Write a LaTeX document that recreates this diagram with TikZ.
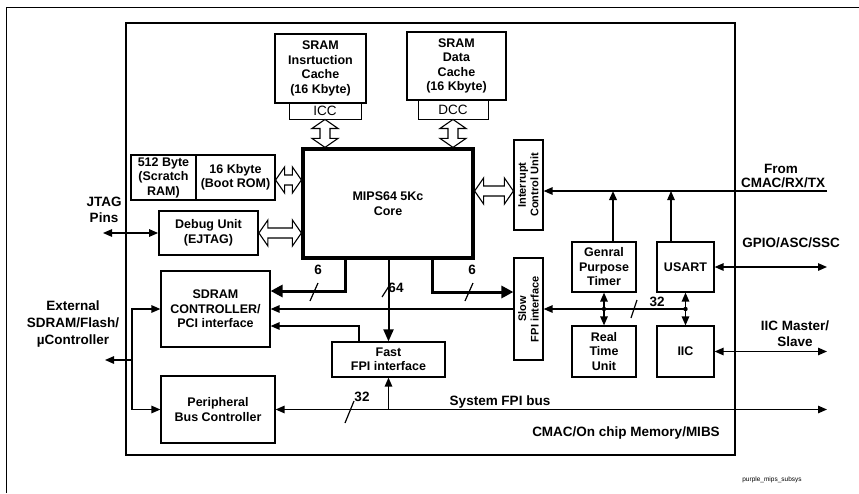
\documentclass[tikz,border=0pt]{standalone}
\usepackage{fontspec}
\setmainfont{Liberation Sans}
\usetikzlibrary{arrows.meta,calc}
\newcommand{\VHollow}[3]{% x, top node anchor, bottom node anchor
  \path[hollow] let \p1=(#2), \p2=(#3) in
    ({#1pt},\y1) -- ({#1pt+13pt},\y1-9pt) -- ({#1pt+5pt},\y1-9pt) -- ({#1pt+5pt},\y2+9pt) -- ({#1pt+13pt},\y2+9pt)
    -- ({#1pt},\y2) -- ({#1pt-13pt},\y2+9pt) -- ({#1pt-5pt},\y2+9pt) -- ({#1pt-5pt},\y1-9pt) -- ({#1pt-13pt},\y1-9pt) -- cycle;}
\newcommand{\HHollow}[3]{% y (pixel, down), left anchor, right anchor
  \path[hollow] let \p1=(#2), \p2=(#3) in
    (\x1,{-#1pt}) -- (\x1+9pt,{-#1pt+13pt}) -- (\x1+9pt,{-#1pt+5pt}) -- (\x2-9pt,{-#1pt+5pt}) -- (\x2-9pt,{-#1pt+13pt})
    -- (\x2,{-#1pt}) -- (\x2-9pt,{-#1pt-13pt}) -- (\x2-9pt,{-#1pt-5pt}) -- (\x1+9pt,{-#1pt-5pt}) -- (\x1+9pt,{-#1pt-13pt}) -- cycle;}
\begin{document}
\begin{tikzpicture}[x=1pt,y=-1pt,
  txt/.style={font=\bfseries\fontsize{12.5}{14.5}\selectfont, align=center, inner sep=0pt},
  rtxt/.style={font=\bfseries\fontsize{11}{12.5}\selectfont, align=center, inner sep=0pt, rotate=90},
  blk/.style={draw, line width=1.2pt, txt},
  thk/.style={blk, line width=2.2pt},
  tag/.style={draw, line width=0.9pt, inner sep=0pt, font=\fontsize{13.5}{14}\selectfont},
  hollow/.style={draw, line width=1.1pt, fill=white, line join=miter},
  tip/.tip={Triangle[length=9pt,width=7.5pt]},
  bigtip/.tip={Triangle[length=12pt,width=12pt]},
  conn/.style={line width=1.3pt, -tip},
  conn2/.style={line width=1.3pt, tip-tip},
  bus/.style={line width=3pt, -bigtip},
  slash/.style={line width=1.2pt},
  lbl/.style={font=\bfseries\fontsize{13.5}{16}\selectfont, align=center, inner sep=0pt},
  blbl/.style={font=\bfseries\fontsize{13.5}{16}\selectfont, inner sep=0pt}]
\useasboundingbox (0,0) rectangle (859,493);
% outer frame (partial)
\draw[line width=1pt] (6,493) -- (6,7) -- (859,7);
% inner box
\node[draw, line width=1.6pt, minimum width=609pt, minimum height=432pt, inner sep=0pt] (chip) at (430.5,239) {};
% blocks
\node[thk, minimum width=91pt, minimum height=69pt] (icache) at (320.5,68.5) {SRAM\\Insrtuction\\Cache\\(16 Kbyte)};
\node[tag, minimum width=72pt, minimum height=16pt] (icc) at (325,111) {ICC};
\node[thk, minimum width=99pt, minimum height=68pt] (dcache) at (456.5,66) {SRAM\\Data\\Cache\\(16 Kbyte)};
\node[tag, minimum width=70pt, minimum height=19pt] (dcc) at (453,109.5) {DCC};
\node[blk, line width=3.2pt, minimum width=170pt, minimum height=109pt] (core) at (388,203.5) {MIPS64 5Kc\\Core};
\node[blk, minimum width=65pt, minimum height=45pt] (scratch) at (163.5,177.5) {512 Byte\\(Scratch\\RAM)};
\node[blk, minimum width=79pt, minimum height=45pt] (boot) at (235.5,177.5) {16 Kbyte\\(Boot ROM)};
\node[thk, line width=1.8pt, minimum width=99pt, minimum height=44pt] (debug) at (208.5,233) {Debug Unit\\(EJTAG)};
\node[blk, minimum width=109pt, minimum height=76pt] (sdram) at (215.5,309) {SDRAM\\CONTROLLER/\\PCI interface};
\node[blk, minimum width=114pt, minimum height=67pt] (pbc) at (218,409.5) {Peripheral\\Bus Controller};
\node[blk, minimum width=113pt, minimum height=35pt] (fast) at (388.5,359.5) {Fast\\FPI interface};
\node[blk, minimum width=29pt, minimum height=102pt] (slow) at (528.5,309) {};
\node[rtxt] at (slow.center) {Slow\\FPI interface};
\node[blk, minimum width=29pt, minimum height=90pt] (icu) at (528.5,185) {};
\node[rtxt] at (icu.center) {Interrupt\\Control Unit};
\node[blk, minimum width=64pt, minimum height=50pt] (gpt) at (604,267) {Genral\\Purpose\\Timer};
\node[blk, minimum width=57pt, minimum height=50pt] (usart) at (685.5,267) {USART};
\node[blk, minimum width=64pt, minimum height=51pt] (rtu) at (604,351.5) {Real\\Time\\Unit};
\node[blk, minimum width=57pt, minimum height=51pt] (iic) at (685.5,351.5) {IIC};
% hollow arrows to core
\VHollow{325}{icc.south}{core.north}
\VHollow{453}{dcc.south}{core.north}
\HHollow{180}{boot.east}{core.west}
\HHollow{233}{debug.east}{core.west}
\HHollow{191}{core.east}{icu.west}
% outside labels
\node[lbl] (jtag) at (104,210) {JTAG\\Pins};
\coordinate (jtagend) at (103,233);
\draw[conn2] (jtagend) -- (debug.west);
\node[lbl, font=\bfseries\fontsize{13.5}{17}\selectfont] (ext) at (73,324) {External\\SDRAM/Flash/\\µController};
\coordinate (xmid) at (132,360);
\coordinate (extend) at (105,360);
\draw[conn] (xmid) -- (extend);
\draw[conn] (xmid) |- (sdram.west);
\draw[conn] (xmid) |- (pbc.west);
% core buses
\coordinate (c1) at (345,291);
\coordinate (c2) at (432,292);
\draw[bus, line join=miter] (core.south -| c1) |- (sdram.east |- c1);
\draw[bus, line join=miter] (core.south -| c2) |- (slow.west |- c2);
\draw[line width=2pt, -{Triangle[length=12pt,width=10pt]}] (core.south -| fast.north) -- (fast.north);
\node[blbl] (w6a) at (318,270) {6};
\node[blbl] (w6b) at (472,270) {6};
\node[blbl] (w64) at (396,288) {64};
\draw[slash] (310,301) -- (318,283);
\draw[slash] (465,301) -- (473,283);
\draw[slash] (382,297) -- (391,283);
% slow FPI to SDRAM, fast FPI to SDRAM
\draw[conn] (slow.west) -- (sdram.east);
\coordinate (c3) at (359,326);
\draw[conn] (fast.north -| c3) |- (sdram.east |- c3);
% system FPI bus
\coordinate (busR) at (827,409.5);
\draw[conn2] (pbc.east) -- (busR);
\coordinate (fb) at (fast.south |- pbc.east);
\draw[conn] (fb) -- (fast.south);
\node[blbl] (w32a) at (362,397) {32};
\draw[slash] (345,423) -- (354,401);
\node[blbl] (sysbus) at (500,402) {System FPI bus};
\node[blbl] (cmacmem) at (626,433) {CMAC/On chip Memory/MIBS};
% interrupt line
\coordinate (cmacR) at (827,191);
\draw[conn] (cmacR) -- (icu.east |- cmacR);
\node[lbl] (from) at (781,169) {From};
\node[lbl] (cmacrx) at (783,183) {CMAC/RX/TX};
\coordinate (g1) at (613,191);
\coordinate (u1) at (671,191);
\draw[line width=2pt, -tip] (g1 |- gpt.north) -- (g1);
\draw[line width=1.1pt, -tip] (u1 |- usart.north) -- (u1);
% peripheral bus
\coordinate (pb) at (685.5,309);
\draw[conn] (pb) -- (slow.east);
\draw[conn2] (gpt.south) -- (rtu.north);
\draw[conn2] (usart.south) -- (iic.north);
\fill (gpt.south |- pb) circle (2.2pt);
\fill (pb) circle (2.2pt);
\node[blbl] (w32b) at (657,302) {32};
\draw[slash] (631,318) -- (637,300);
% right side
\coordinate (gpioR) at (827,267);
\draw[conn2] (usart.east) -- (gpioR);
\node[lbl] (gpio) at (791,243) {GPIO/ASC/SSC};
\coordinate (iicR) at (827,351.5);
\draw[conn2] (iic.east) -- (iicR);
\node[lbl] (iicl) at (795,334) {IIC Master/\\Slave};
\node[inner sep=0pt, font=\fontsize{6.5}{7}\selectfont] (fig) at (772,480) {purple\_mips\_subsys};
\end{tikzpicture}
\end{document}
